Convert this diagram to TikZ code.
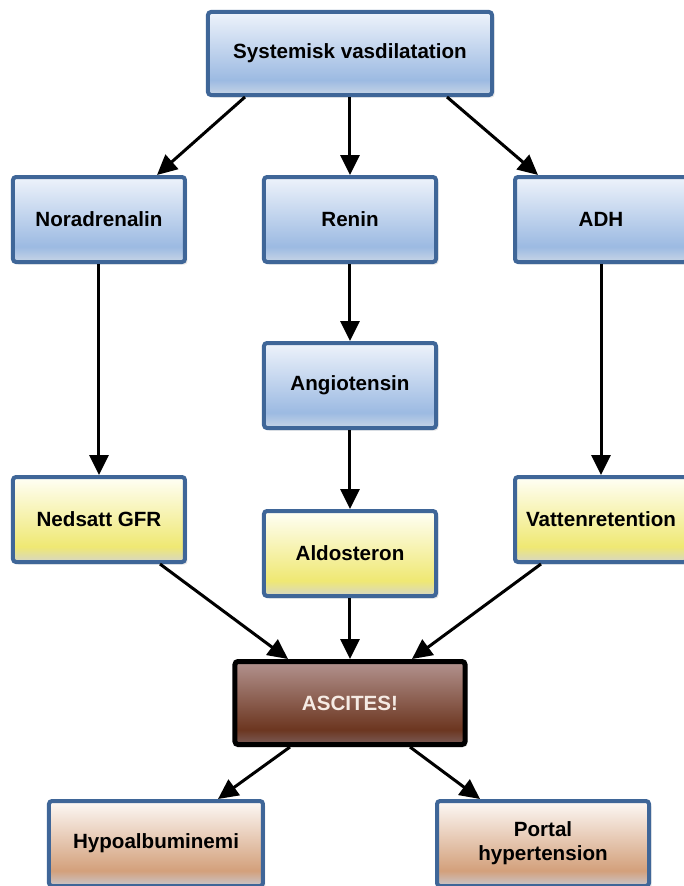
\documentclass[tikz,border=0pt]{standalone}
\usepackage{fontspec}
\setmainfont{Liberation Sans}
\usepackage{xcolor}
\usepackage{tikz}
\usetikzlibrary{shapes,positioning,arrows.meta,shadows}
\definecolor{boxborder}{HTML}{3F6698}
\definecolor{bluetop}{HTML}{EEF3FB}
\definecolor{bluemid}{HTML}{9CBAE2}
\definecolor{bluebot}{HTML}{C8D5E6}
\definecolor{yellowtop}{HTML}{FFFFF6}
\definecolor{yellowmid}{HTML}{EFE873}
\definecolor{yellowbot}{HTML}{D6D6C6}
\definecolor{browntop}{HTML}{B3938F}
\definecolor{brownmid}{HTML}{6C3620}
\definecolor{brownbot}{HTML}{7B5C58}
\definecolor{tantop}{HTML}{FDF9F6}
\definecolor{tanmid}{HTML}{D3A07B}
\definecolor{tanbot}{HTML}{C9C6CC}
\definecolor{ascitestext}{HTML}{F5EBE4}
\pgfdeclareverticalshading{blueshade}{100bp}{color(0bp)=(bluebot); color(25bp)=(bluebot); color(34bp)=(bluemid); color(75bp)=(bluetop); color(100bp)=(bluetop)}
\pgfdeclareverticalshading{yellowshade}{100bp}{color(0bp)=(yellowbot); color(25bp)=(yellowbot); color(34bp)=(yellowmid); color(75bp)=(yellowtop); color(100bp)=(yellowtop)}
\pgfdeclareverticalshading{brownshade}{100bp}{color(0bp)=(brownbot); color(25bp)=(brownbot); color(34bp)=(brownmid); color(75bp)=(browntop); color(100bp)=(browntop)}
\pgfdeclareverticalshading{tanshade}{100bp}{color(0bp)=(tanbot); color(25bp)=(tanbot); color(34bp)=(tanmid); color(75bp)=(tantop); color(100bp)=(tantop)}
\tikzstyle{cause}=  [draw=boxborder,
line width=4pt,
rectangle,
rounded corners=3pt,
minimum width=172pt,
minimum height=85pt,
align=center,
drop shadow={opacity=0.2,shadow xshift=2.5pt,shadow yshift=-2.5pt},
shading=blueshade,
]
\tikzstyle{effect}= [cause,
shading=yellowshade,
]
\tikzstyle{result}= [cause,
draw=black,
line width=5pt,
shading=brownshade,
text=ascitestext,
]
\tikzstyle{outcome}=[cause,
shading=tanshade,
]
\tikzstyle{pil}=    [-{Triangle[length=20pt,width=19pt]},
line width=3pt,
]

\begin{document}
\begin{tikzpicture}[font=\bfseries\fontsize{20.6}{24}\selectfont]
        \useasboundingbox (-350pt,53.5pt) rectangle (334pt,-832.5pt);
        \clip (-350pt,53.5pt) rectangle (334pt,-832.5pt);
        \node[cause, minimum width=284pt, minimum height=83pt] (vasdil) at (0,0) {Systemisk vasdilatation};
        \node[cause, below=78pt of vasdil] (renin) {Renin};
        \node[cause, left=75pt of renin] (noradr) {Noradrenalin};
        \node[cause, right=75pt of renin] (adh) {ADH};
        \node[cause, below=77pt of renin] (angio) {Angiotensin};
        \node[effect, below=79pt of angio] (aldo) {Aldosteron};
        \node[effect, below=211pt of noradr] (gfr) {Nedsatt GFR};
        \node[effect, below=211pt of adh] (vatten) {Vattenretention};
        \node[result, minimum width=230pt, minimum height=83pt, below=61pt of aldo] (ascites) {ASCITES!};
        \node[outcome, minimum width=214pt, below=52pt of ascites, xshift=-194pt] (hypo) {Hypoalbuminemi};
        \node[outcome, minimum width=212pt, below=52pt of ascites, xshift=193pt] (portal) {Portal\\hypertension};

        \draw[pil] ([xshift=-105pt]vasdil.south) -- ([xshift=58pt]noradr.north);
        \draw[pil] (vasdil) edge (renin);
        \draw[pil] ([xshift=97pt]vasdil.south) -- ([xshift=-63pt]adh.north);
        \draw[pil] (noradr) edge (gfr) (renin) edge (angio) (angio) edge (aldo) (adh) edge (vatten);
        \draw[pil] ([xshift=61pt]gfr.south) -- ([xshift=-62pt]ascites.north);
        \draw[pil] (aldo) edge (ascites);
        \draw[pil] ([xshift=-60pt]vatten.south) -- ([xshift=62pt]ascites.north);
        \draw[pil] ([xshift=-60pt]ascites.south) -- ([xshift=62pt]hypo.north);
        \draw[pil] ([xshift=60pt]ascites.south) -- ([xshift=-63pt]portal.north);
    \end{tikzpicture}
\end{document}
